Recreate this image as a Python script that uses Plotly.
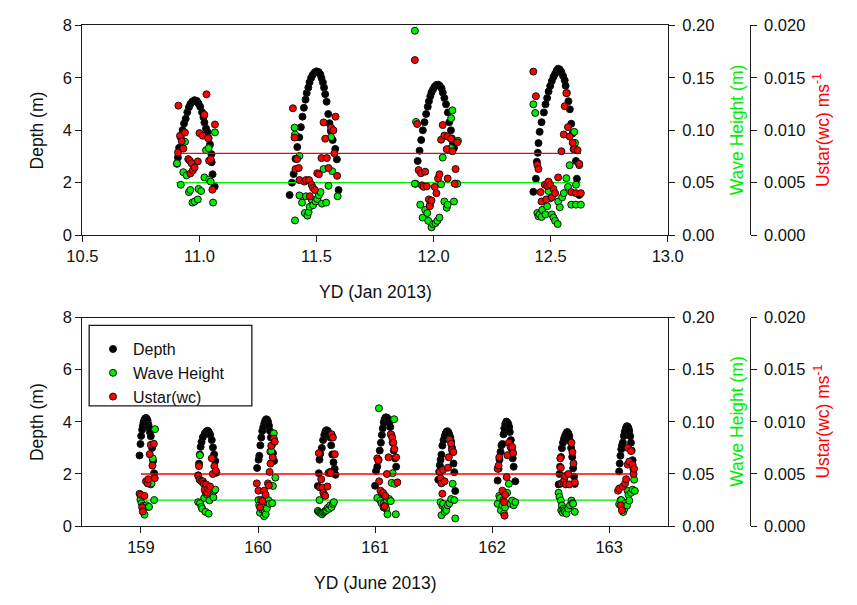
import plotly.graph_objects as go

# ---------------- January 2013 (YD 10.5 - 13.0) ----------------
jan_depth_t = [
    10.904, 10.908, 10.913, 10.920, 10.928, 10.934, 10.941, 10.948, 10.955, 10.961, 10.970, 10.979, 10.989,
    10.996, 11.003, 11.011, 11.017, 11.021, 11.028, 11.034, 11.039, 11.045, 11.051, 11.052, 11.056, 11.065,
    11.385, 11.395, 11.402, 11.410, 11.418, 11.426, 11.433, 11.440, 11.446, 11.453, 11.458, 11.465, 11.470,
    11.477, 11.484, 11.492, 11.500, 11.509, 11.516, 11.521, 11.527, 11.532, 11.537, 11.543, 11.550, 11.555,
    11.561, 11.569, 11.580, 11.587, 11.594,
    11.923, 11.932, 11.940, 11.947, 11.954, 11.961, 11.968, 11.975, 11.980, 11.986, 11.991, 11.998, 12.005,
    12.012, 12.020, 12.027, 12.034, 12.039, 12.046, 12.053, 12.061, 12.067, 12.074, 12.078, 12.083, 12.087,
    12.094,
    12.426, 12.437, 12.441, 12.445, 12.448, 12.453, 12.461, 12.471, 12.478, 12.485, 12.491, 12.498, 12.505,
    12.512, 12.519, 12.526, 12.532, 12.539, 12.546, 12.553, 12.560, 12.564, 12.569, 12.576, 12.582, 12.588,
    12.594, 12.601, 12.608, 12.612, 12.622,
]
jan_depth = [
    2.72, 2.96, 3.33, 3.73, 4.01, 4.26, 4.44, 4.69, 4.88, 5.00, 5.10, 5.15, 5.12,
    5.02, 4.90, 4.69, 4.50, 4.30, 4.07, 3.93, 3.70, 3.46, 3.09, 2.78, 2.32, 1.85,
    1.53, 2.00, 2.33, 2.91, 3.36, 3.73, 4.12, 4.52, 4.86, 5.17, 5.42, 5.63, 5.83,
    6.00, 6.12, 6.21, 6.25, 6.22, 6.14, 6.00, 5.83, 5.63, 5.38, 5.09, 4.62, 4.27,
    3.97, 3.63, 3.29, 2.89, 1.72,
    1.96, 2.83, 3.22, 3.63, 4.00, 4.31, 4.62, 4.90, 5.11, 5.30, 5.44, 5.57, 5.67,
    5.73, 5.74, 5.69, 5.60, 5.44, 5.23, 4.99, 4.68, 4.31, 4.00, 3.69, 3.51, 3.32,
    1.96,
    1.65, 2.15, 2.80, 3.14, 3.51, 3.94, 4.31, 4.68, 4.99, 5.23, 5.48, 5.69, 5.88,
    6.04, 6.16, 6.28, 6.35, 6.32, 6.22, 6.07, 5.91, 5.70, 5.42, 5.11, 4.80, 4.25,
    3.88, 3.44, 2.83, 2.15, 1.53,
]

jan_wave_t = [
    10.904, 10.920, 10.931, 10.938, 10.945, 10.955, 10.961, 10.970, 10.979, 10.993, 10.996, 11.007, 11.021,
    11.028, 11.039, 11.041, 11.048, 11.058, 11.066,
    11.406, 11.408, 11.408, 11.427, 11.427, 11.438, 11.450, 11.455, 11.461, 11.466, 11.471, 11.479, 11.485,
    11.496, 11.503, 11.510, 11.517, 11.523, 11.530, 11.541, 11.551, 11.562, 11.567, 11.590,
    11.920, 11.920, 11.925, 11.943, 11.953, 11.964, 11.973, 11.977, 11.984, 11.991, 11.998, 12.008, 12.016,
    12.025, 12.032, 12.039, 12.046, 12.056, 12.060, 12.074, 12.075, 12.080, 12.087, 12.101, 12.104,
    12.426, 12.434, 12.443, 12.448, 12.453, 12.461, 12.464, 12.478, 12.485, 12.491, 12.498, 12.505, 12.512,
    12.519, 12.530, 12.532, 12.539, 12.549, 12.556, 12.567, 12.574, 12.581, 12.588, 12.598, 12.601, 12.604,
    12.608, 12.608, 12.622, 12.629,
]
jan_wave = [
    0.0685, 0.048, 0.060, 0.089, 0.057, 0.041, 0.043, 0.031, 0.032, 0.034, 0.044, 0.042, 0.055,
    0.081, 0.083, 0.053, 0.051, 0.031, 0.098,
    0.1025, 0.096, 0.014, 0.0755, 0.0378, 0.031, 0.021, 0.037, 0.0185, 0.022, 0.027, 0.034, 0.0285,
    0.032, 0.0345, 0.038, 0.041, 0.030, 0.063, 0.031, 0.047, 0.0935, 0.061, 0.037,
    0.195, 0.049, 0.108, 0.029, 0.0167, 0.024, 0.021, 0.0136, 0.0285, 0.0074, 0.0105, 0.0114, 0.0136,
    0.0167, 0.0485, 0.074, 0.032, 0.026, 0.029, 0.083, 0.1115, 0.119, 0.032, 0.049, 0.090,
    0.1248, 0.1165, 0.021, 0.018, 0.0197, 0.0173, 0.024, 0.0197, 0.0275, 0.042, 0.035, 0.0197, 0.0167,
    0.0136, 0.0105, 0.032, 0.0265, 0.036, 0.040, 0.0543, 0.046, 0.0667, 0.029, 0.082, 0.0985, 0.088,
    0.048, 0.029, 0.0667, 0.029,
]

jan_ustar_t = [
    10.908, 10.910, 10.917, 10.924, 10.931, 10.938, 10.952, 10.959, 10.961, 10.966, 10.972, 10.979, 10.993,
    11.000, 11.014, 11.021, 11.030, 11.037, 11.041, 11.048, 11.055, 11.066,
    11.399, 11.406, 11.410, 11.417, 11.424, 11.427, 11.448, 11.455, 11.468, 11.471, 11.479, 11.485, 11.493,
    11.503, 11.510, 11.521, 11.530, 11.537, 11.544, 11.551, 11.562, 11.572, 11.576, 11.581, 11.588,
    11.920, 11.930, 11.936, 11.946, 11.950, 11.957, 11.964, 11.971, 11.980, 11.984, 11.991, 12.005, 12.012,
    12.019, 12.025, 12.032, 12.039, 12.046, 12.056, 12.060, 12.060, 12.074, 12.080, 12.090, 12.094, 12.101,
    12.426, 12.437, 12.443, 12.448, 12.457, 12.461, 12.475, 12.481, 12.485, 12.491, 12.498, 12.505, 12.512,
    12.519, 12.532, 12.546, 12.556, 12.560, 12.567, 12.574, 12.581, 12.588, 12.594, 12.601, 12.608, 12.615,
    12.622, 12.629,
]
jan_ustar = [
    0.00788, 0.01235, 0.00948, 0.00895, 0.00825, 0.00978, 0.00725, 0.0071, 0.00588, 0.00685, 0.00618, 0.00643, 0.00703,
    0.00973, 0.00948, 0.01148, 0.01343, 0.00925, 0.0071, 0.00725, 0.00433, 0.01055,
    0.0121, 0.0093, 0.0063, 0.00725, 0.0064, 0.00525, 0.0051, 0.00525, 0.00525, 0.0037, 0.0048, 0.0045, 0.0043,
    0.0059, 0.0058, 0.00735, 0.01075, 0.0092, 0.00735, 0.0064, 0.01025, 0.0100, 0.0078, 0.0113, 0.00565,
    0.0167, 0.0106, 0.0062, 0.0059, 0.00475, 0.0046, 0.00605, 0.00465, 0.0034, 0.00275, 0.0033, 0.0046, 0.0040,
    0.0054, 0.0058, 0.0091, 0.0105, 0.0095, 0.0082, 0.0094, 0.0054, 0.0092, 0.0080, 0.0049, 0.0063, 0.00885,
    0.0156, 0.01325, 0.0067, 0.0063, 0.0041, 0.0032, 0.0048, 0.0034, 0.0047, 0.0051, 0.0048, 0.0036, 0.0044,
    0.0040, 0.0055, 0.0080, 0.0096, 0.0123, 0.01355, 0.0103, 0.0094, 0.0041, 0.0088, 0.0082, 0.0040, 0.0081,
    0.0068, 0.0040,
]

# reference levels (wave height, ustar) and the YD span they cover
jan_wave_ref = 0.05
jan_ustar_ref = 0.0078
jan_ref_span = [10.90, 12.63]

# ---------------- June 2013 (YD 158.5 - 163.5) ----------------
june_depth_t = [
    158.988, 158.996, 159.002, 159.010, 159.016, 159.022, 159.029, 159.036, 159.043, 159.050, 159.057, 159.064,
    159.070, 159.077, 159.084, 159.095, 159.104, 159.112,
    159.489, 159.496, 159.503, 159.510, 159.518, 159.529, 159.545, 159.558, 159.570, 159.580, 159.592, 159.605,
    159.615, 159.625, 159.635, 159.645,
    159.992, 160.005, 160.011, 160.020, 160.028, 160.036, 160.045, 160.054, 160.062, 160.070, 160.078, 160.086,
    160.094, 160.102, 160.110, 160.118, 160.128, 160.137,
    160.511, 160.519, 160.525, 160.532, 160.545, 160.556, 160.566, 160.576, 160.585, 160.596, 160.607, 160.617,
    160.625, 160.634, 160.645, 160.655, 160.662,
    161.000, 161.008, 161.019, 161.030, 161.040, 161.050, 161.058, 161.066, 161.074, 161.082, 161.090, 161.098,
    161.106, 161.114, 161.122, 161.130, 161.140, 161.150, 161.160, 161.170, 161.180,
    161.540, 161.548, 161.553, 161.560, 161.567, 161.575, 161.585, 161.595, 161.603, 161.611, 161.619, 161.627,
    161.635, 161.643, 161.650, 161.658, 161.663, 161.670, 161.677, 161.685,
    162.047, 162.055, 162.063, 162.072, 162.080, 162.088, 162.097, 162.104, 162.112, 162.121, 162.130, 162.138,
    162.146, 162.151, 162.160, 162.168, 162.176, 162.184, 162.198,
    162.568, 162.575, 162.580, 162.588, 162.596, 162.605, 162.614, 162.623, 162.633, 162.642, 162.651, 162.659,
    162.667, 162.675, 162.684, 162.692, 162.700, 162.706,
    163.085, 163.090, 163.096, 163.103, 163.110, 163.117, 163.125, 163.133, 163.142, 163.150, 163.158, 163.165,
    163.172, 163.180, 163.186, 163.192, 163.200, 163.206,
]
june_depth = [
    2.71, 3.15, 3.46, 3.70, 3.85, 3.98, 4.07, 4.13, 4.15, 4.12, 4.05, 3.90,
    3.77, 3.60, 3.45, 3.00, 2.50, 2.03,
    1.95, 2.40, 2.75, 3.04, 3.23, 3.41, 3.55, 3.63, 3.66, 3.62, 3.50, 3.30,
    3.02, 2.75, 2.50, 2.05,
    2.23, 2.55, 2.70, 3.10, 3.40, 3.65, 3.80, 3.95, 4.05, 4.10, 4.08, 4.00,
    3.85, 3.65, 3.40, 3.10, 2.80, 2.50,
    1.54, 2.03, 2.55, 2.78, 3.00, 3.30, 3.50, 3.64, 3.68, 3.65, 3.55, 3.40,
    3.10, 2.75, 2.45, 2.20, 1.97,
    1.55, 2.11, 2.28, 2.55, 2.90, 3.20, 3.50, 3.75, 3.98, 4.10, 4.17, 4.17,
    4.14, 4.08, 3.95, 3.80, 3.50, 3.20, 2.90, 2.60, 2.28,
    1.78, 2.09, 2.34, 2.55, 2.74, 3.09, 3.30, 3.45, 3.55, 3.62, 3.64, 3.60,
    3.50, 3.40, 3.25, 3.00, 2.84, 2.40, 2.07, 1.35,
    1.75, 2.20, 2.55, 2.85, 3.10, 3.15, 3.52, 3.75, 3.92, 4.01, 3.98, 3.92,
    3.80, 3.61, 3.30, 2.95, 2.60, 2.28, 1.72,
    1.60, 2.00, 2.28, 2.65, 2.99, 3.20, 3.35, 3.46, 3.56, 3.61, 3.56, 3.46,
    3.25, 3.00, 2.65, 2.22, 1.90, 1.62,
    2.10, 2.40, 2.70, 2.95, 3.10, 3.21, 3.46, 3.62, 3.75, 3.83, 3.82, 3.76,
    3.65, 3.45, 3.20, 2.90, 2.53, 2.20,
]

june_wave_t = [
    158.995, 159.005, 159.018, 159.030, 159.036, 159.048, 159.060, 159.069, 159.084, 159.091, 159.100, 159.113,
    159.120,
    159.489, 159.504, 159.505, 159.516, 159.523, 159.540, 159.551, 159.552, 159.565, 159.578, 159.585, 159.600,
    159.619, 159.627, 159.635,
    160.004, 160.010, 160.017, 160.025, 160.036, 160.045, 160.052, 160.058, 160.066, 160.075, 160.088, 160.099,
    160.105, 160.113, 160.121, 160.127, 160.135, 160.148,
    160.511, 160.520, 160.525, 160.530, 160.540, 160.547, 160.556, 160.566, 160.575, 160.585, 160.595, 160.607,
    160.617, 160.629, 160.640, 160.648,
    161.019, 161.033, 161.046, 161.055, 161.073, 161.085, 161.095, 161.101, 161.106, 161.120, 161.134, 161.142,
    161.150, 161.163, 161.169, 161.177,
    161.559, 161.567, 161.575, 161.581, 161.594, 161.600, 161.608, 161.620, 161.635, 161.650, 161.663, 161.677,
    161.685,
    162.047, 162.061, 162.068, 162.075, 162.088, 162.102, 162.110, 162.128, 162.143, 162.157, 162.171, 162.184,
    162.198,
    162.568, 162.575, 162.587, 162.590, 162.596, 162.603, 162.609, 162.615, 162.623, 162.635, 162.651, 162.665,
    162.678, 162.685, 162.692, 162.706,
    163.085, 163.098, 163.103, 163.110, 163.120, 163.131, 163.140, 163.153, 163.158, 163.165, 163.172, 163.186,
    163.200, 163.213, 163.219,
]
june_wave = [
    0.0255, 0.022, 0.0195, 0.011, 0.0185, 0.020, 0.0185, 0.0185, 0.040, 0.041, 0.065, 0.025,
    0.093,
    0.023, 0.068, 0.022, 0.0185, 0.0167, 0.027, 0.0137, 0.0325, 0.030, 0.012, 0.0248, 0.031,
    0.0276, 0.034, 0.035,
    0.025, 0.020, 0.0128, 0.0185, 0.016, 0.018, 0.0095, 0.0138, 0.0115, 0.017, 0.025, 0.0215,
    0.0715, 0.072, 0.022, 0.0385, 0.089, 0.0465,
    0.0146, 0.0135, 0.025, 0.0128, 0.0125, 0.0114, 0.0130, 0.0137, 0.0145, 0.0152, 0.0175, 0.0167,
    0.0200, 0.0183, 0.0214, 0.023,
    0.027, 0.113, 0.0245, 0.022, 0.0214, 0.020, 0.0167, 0.025, 0.0114, 0.026, 0.024, 0.0415,
    0.0508, 0.1025, 0.0406, 0.0114,
    0.023, 0.0105, 0.0195, 0.0214, 0.0137, 0.017, 0.0152, 0.020, 0.022, 0.026, 0.0406, 0.025,
    0.0074,
    0.0214, 0.029, 0.027, 0.0152, 0.020, 0.012, 0.018, 0.032, 0.0406, 0.0214, 0.0245, 0.020,
    0.023,
    0.032, 0.028, 0.0245, 0.0152, 0.0198, 0.013, 0.0167, 0.015, 0.0137, 0.012, 0.0167, 0.020,
    0.0245, 0.022, 0.0214, 0.0137,
    0.021, 0.025, 0.025, 0.018, 0.0135, 0.0167, 0.022, 0.0198, 0.0338, 0.030, 0.0245, 0.032,
    0.035, 0.0445, 0.0338,
]

june_ustar_t = [
    158.988, 159.000, 159.010, 159.016, 159.030, 159.043, 159.057, 159.063, 159.075, 159.084, 159.098, 159.110,
    159.118,
    159.490, 159.496, 159.501, 159.515, 159.530, 159.537, 159.545, 159.556, 159.564, 159.575, 159.590, 159.605,
    159.614, 159.627, 159.640,
    159.990, 160.004, 160.017, 160.025, 160.039, 160.052, 160.065, 160.085, 160.093, 160.099, 160.107, 160.113,
    160.126, 160.135, 160.143,
    160.519, 160.530, 160.540, 160.550, 160.558, 160.566, 160.574, 160.593, 160.602, 160.615, 160.621, 160.629,
    160.640, 160.656,
    161.019, 161.027, 161.035, 161.046, 161.060, 161.068, 161.073, 161.082, 161.087, 161.101, 161.115, 161.134,
    161.146, 161.156, 161.165, 161.180, 161.190,
    161.553, 161.559, 161.567, 161.575, 161.581, 161.594, 161.622, 161.630, 161.636, 161.650, 161.658, 161.669,
    162.047, 162.055, 162.061, 162.088, 162.095, 162.102, 162.106, 162.112, 162.124, 162.130, 162.143, 162.157,
    162.171, 162.180,
    162.582, 162.587, 162.592, 162.609, 162.616, 162.623, 162.630, 162.651, 162.660, 162.678, 162.686, 162.695,
    162.706,
    163.076, 163.085, 163.098, 163.109, 163.117, 163.136, 163.145, 163.158, 163.160, 163.172, 163.186, 163.200,
    163.208, 163.213,
]
june_ustar = [
    0.0031, 0.0030, 0.0018, 0.0014, 0.0029, 0.0043, 0.0041, 0.0045, 0.0069, 0.0078, 0.0058, 0.0079,
    0.0046,
    0.0048, 0.00575, 0.00445, 0.0043, 0.0043, 0.00405, 0.0035, 0.0040, 0.0032, 0.0036, 0.0038, 0.0065,
    0.0050, 0.00575, 0.0053,
    0.0041, 0.0034, 0.0018, 0.0025, 0.0024, 0.0034, 0.0030, 0.0041, 0.0039, 0.0052, 0.0060, 0.0077,
    0.0066, 0.0084, 0.0081,
    0.0070, 0.0037, 0.0045, 0.0037, 0.0032, 0.0030, 0.0029, 0.0038, 0.0051, 0.0052, 0.0051, 0.0088,
    0.0085, 0.0069,
    0.0065, 0.0063, 0.0043, 0.0034, 0.0031, 0.0032, 0.0018, 0.0019, 0.0029, 0.0050, 0.0066, 0.0088,
    0.0085, 0.0080, 0.0074, 0.0066, 0.0042,
    0.0052, 0.0046, 0.0041, 0.0031, 0.0054, 0.0043, 0.0056, 0.0066, 0.0083, 0.0079, 0.0073, 0.0071,
    0.0055, 0.0058, 0.0066, 0.0034, 0.0025, 0.0023, 0.0010, 0.0030, 0.0047, 0.0068, 0.0080, 0.0076,
    0.0076, 0.0070,
    0.0065, 0.0056, 0.0041, 0.0042, 0.0044, 0.0048, 0.0040, 0.0050, 0.0040, 0.0080, 0.0071, 0.0060,
    0.0042,
    0.0034, 0.0036, 0.0020, 0.0015, 0.0038, 0.0041, 0.0045, 0.0059, 0.0075, 0.0062, 0.0072, 0.0059,
    0.0050, 0.0055,
]

june_wave_ref = 0.025
june_ustar_ref = 0.005
june_ref_span = [159.0, 163.2]

# ---------------- styling ----------------
W, H = 857, 605
FONT = "Liberation Sans, Arial, sans-serif"
GREEN = "#00ee00"
RED = "#ff0000"
AX = "#1a1a1a"


def px_x(p):
    return p / W


def px_y(p):
    return 1 - p / H


def marker(color):
    return dict(size=7, color=color, line=dict(color="#111111", width=1))


fig = go.Figure()

# top panel
fig.add_trace(go.Scatter(x=jan_depth_t, y=jan_depth, mode="markers", marker=marker("#000000"),
                         xaxis="x", yaxis="y", showlegend=False, name="Depth"))
fig.add_trace(go.Scatter(x=jan_ref_span, y=[jan_wave_ref] * 2, mode="lines",
                         line=dict(color=GREEN, width=1.3), xaxis="x", yaxis="y2", showlegend=False))
fig.add_trace(go.Scatter(x=jan_wave_t, y=jan_wave, mode="markers", marker=marker(GREEN),
                         xaxis="x", yaxis="y2", showlegend=False, name="Wave Height"))
fig.add_trace(go.Scatter(x=jan_ref_span, y=[jan_ustar_ref] * 2, mode="lines",
                         line=dict(color=RED, width=1.3), xaxis="x", yaxis="y3", showlegend=False))
fig.add_trace(go.Scatter(x=jan_ustar_t, y=jan_ustar, mode="markers", marker=marker(RED),
                         xaxis="x", yaxis="y3", showlegend=False, name="Ustar(wc)"))

# bottom panel
fig.add_trace(go.Scatter(x=june_depth_t, y=june_depth, mode="markers", marker=marker("#000000"),
                         xaxis="x2", yaxis="y4", name="Depth"))
fig.add_trace(go.Scatter(x=june_ref_span, y=[june_wave_ref] * 2, mode="lines",
                         line=dict(color=GREEN, width=1.3), xaxis="x2", yaxis="y5", showlegend=False))
fig.add_trace(go.Scatter(x=june_wave_t, y=june_wave, mode="markers", marker=marker(GREEN),
                         xaxis="x2", yaxis="y5", name="Wave Height"))
fig.add_trace(go.Scatter(x=june_ref_span, y=[june_ustar_ref] * 2, mode="lines",
                         line=dict(color=RED, width=1.3), xaxis="x2", yaxis="y6", showlegend=False))
fig.add_trace(go.Scatter(x=june_ustar_t, y=june_ustar, mode="markers", marker=marker(RED),
                         xaxis="x2", yaxis="y6", name="Ustar(wc)"))

tickfont = dict(family=FONT, size=16.5, color="#111111")
common = dict(showgrid=False, zeroline=False, showline=True, linecolor=AX, linewidth=1.4,
              ticks="outside", ticklen=6, tickwidth=1.3, tickcolor=AX, tickfont=tickfont)
right = dict(common, ticklabelstandoff=4)

x_dom = [px_x(69), px_x(677)]
top_dom = [px_y(233), px_y(17)]
bot_dom = [px_y(533), px_y(318)]

fig.update_layout(
    width=W, height=H,
    margin=dict(l=0, r=0, t=0, b=0),
    paper_bgcolor="white", plot_bgcolor="white",
    font=dict(family=FONT, color="#111111"),
    xaxis=dict(domain=x_dom, anchor="y", range=[10.5, 13.0], dtick=0.5, tick0=10.5,
               tickformat=".1f", mirror=True, **common),
    yaxis=dict(domain=top_dom, anchor="x", range=[0, 8], dtick=2, **common),
    yaxis2=dict(overlaying="y", anchor="x", side="right", range=[0, 0.2], dtick=0.05,
                tickformat=".2f", **right),
    yaxis3=dict(overlaying="y", anchor="free", side="right", position=px_x(762),
                range=[0, 0.02], dtick=0.005, tickformat=".3f", **right),
    xaxis2=dict(domain=x_dom, anchor="y4", range=[158.5, 163.5], dtick=1, tick0=159,
                mirror=True, **common),
    yaxis4=dict(domain=bot_dom, anchor="x2", range=[0, 8], dtick=2, **common),
    yaxis5=dict(overlaying="y4", anchor="x2", side="right", range=[0, 0.2], dtick=0.05,
                tickformat=".2f", **right),
    yaxis6=dict(overlaying="y4", anchor="free", side="right", position=px_x(762),
                range=[0, 0.02], dtick=0.005, tickformat=".3f", **right),
    legend=dict(x=px_x(80), y=px_y(333), xanchor="left", yanchor="top",
                bgcolor="rgba(0,0,0,0)", borderwidth=0,
                font=dict(family=FONT, size=16, color="#111111"), tracegroupgap=0),
    shapes=[dict(type="rect", xref="paper", yref="paper",
                 x0=px_x(76), x1=px_x(245), y0=px_y(409), y1=px_y(326),
                 line=dict(color=AX, width=1.3), fillcolor="rgba(0,0,0,0)")],
)

title_font = dict(family=FONT, size=17.5, color="#111111")
annotations = []
for cy, xlabel, xly in [(125, "YD (Jan 2013)", 292), (425.5, "YD (June 2013)", 592)]:
    annotations += [
        dict(text="Depth (m)", x=px_x(22), y=px_y(cy), textangle=-90, font=title_font),
        dict(text="Wave Height (m)", x=px_x(749), y=px_y(cy), textangle=-90,
             font=dict(title_font, color=GREEN)),
        dict(text="Ustar(wc) ms<sup>-1</sup>", x=px_x(837), y=px_y(cy), textangle=-90,
             font=dict(title_font, color=RED)),
        dict(text=xlabel, x=px_x(373), y=px_y(xly), font=title_font),
    ]
for a in annotations:
    a.update(xref="paper", yref="paper", showarrow=False, xanchor="center", yanchor="middle")
fig.update_layout(annotations=annotations)

fig.write_html("out.html")
